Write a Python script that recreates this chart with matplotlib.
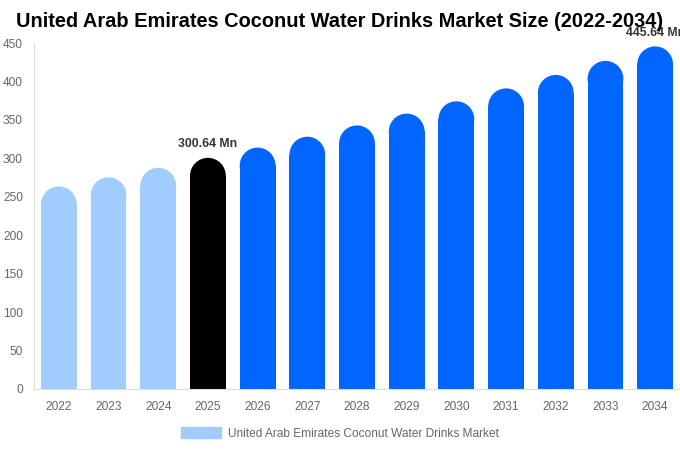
import matplotlib.pyplot as plt
from matplotlib.patches import Ellipse, Patch

plt.rcParams['font.family'] = ['Liberation Sans', 'DejaVu Sans']

# Market size values (USD Mn)
years = ['2022', '2023', '2024', '2025', '2026', '2027', '2028',
         '2029', '2030', '2031', '2032', '2033', '2034']
values = [263.5, 275.3, 287.7, 300.64, 314.0, 328.1, 342.8,
          358.2, 374.2, 391.0, 408.5, 426.8, 445.64]
bar_colors = ['#a0cdfd'] * 3 + ['#000000'] + ['#0066ff'] * 9
labelled = {3: '300.64 Mn', 12: '445.64 Mn'}
yticks = [0, 50, 100, 150, 200, 250, 300, 350, 400, 450]

fig = plt.figure(figsize=(6.8, 4.5), dpi=100)
ax = fig.add_axes([0.05, 0.1356, 0.95, 0.7688])
ax.set_xlim(-0.5, len(years) - 0.5)
ax.set_ylim(0, 450)

bar_w = 0.72
# convert half bar width to data-y units so the caps look round
x0, y0 = ax.transData.transform((0, 0))
x1, y1 = ax.transData.transform((1, 1))
rh = (bar_w / 2) * (x1 - x0) / (y1 - y0)

xs = list(range(len(years)))
ax.bar(xs, [v - rh for v in values], width=bar_w, color=bar_colors, zorder=2)
for x, v, c in zip(xs, values, bar_colors):
    ax.add_patch(Ellipse((x, v - rh), bar_w, 2 * rh, color=c, zorder=2, lw=0))

for i, txt in labelled.items():
    ax.annotate(txt, (xs[i], values[i]), xytext=(0, 5.5), textcoords='offset points',
                ha='center', va='bottom', fontsize=8.8, fontweight='bold',
                color='#333333', annotation_clip=False)

ax.set_xticks(xs)
ax.set_xticklabels(years)
ax.set_yticks(yticks)
ax.tick_params(length=0, labelsize=8.6, colors='#666666')
ax.tick_params(axis='x', pad=9)
ax.tick_params(axis='y', pad=8)
for s in ['top', 'right']:
    ax.spines[s].set_visible(False)
for s in ['left', 'bottom']:
    ax.spines[s].set_color('#dddddd')

fig.text(0.5, 0.953, 'United Arab Emirates Coconut Water Drinks Market Size (2022-2034)',
         ha='center', va='center', fontsize=14.4, fontweight='bold', color='#000000')

fig.legend(handles=[Patch(color='#a0cdfd', label='United Arab Emirates Coconut Water Drinks Market')],
           loc='center', bbox_to_anchor=(0.5, 0.037), frameon=False, fontsize=8.6,
           labelcolor='#666666', handlelength=3.3, handleheight=1.1, handletextpad=0.6)

fig.savefig('out.png', dpi=100)
